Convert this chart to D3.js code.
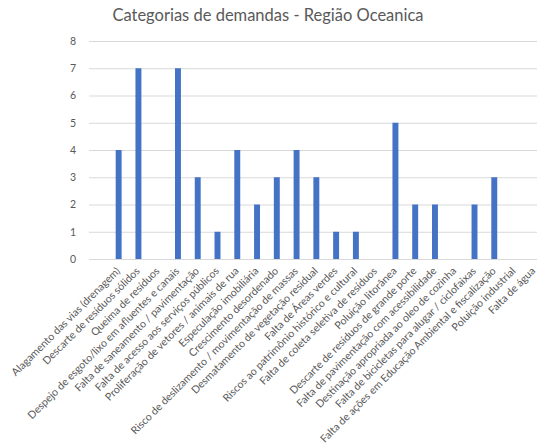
<!DOCTYPE html>
<html>
<head>
<meta charset="utf-8">
<script src="https://cdn.jsdelivr.net/npm/d3@7"></script>
<style>
  html, body { margin: 0; padding: 0; background: #fff; }
  svg { display: block; }
  text { font-family: Lato, "Open Sans", sans-serif; }
</style>
</head>
<body>
<svg id="chart" width="537" height="445"></svg>
<script>
const title = "Categorias de demandas - Região Oceanica";
const categories = [
  "",
  "Alagamento das vias (drenagem)",
  "Descarte de resíduos sólidos",
  "Queima de resíduos",
  "Despejo de esgoto/lixo em afluentes e canais",
  "Falta de saneamento / pavimentação",
  "Falta de acesso aos serviços públicos",
  "Proliferação de vetores / animais de rua",
  "Especulação imobiliária",
  "Crescimento desordenado",
  "Risco de deslizamento / movimentação de massas",
  "Desmatamento de vegetação residual",
  "Falta de Áreas verdes",
  "Riscos ao patrimônio histórico e cultural",
  "Falta de coleta seletiva de resíduos",
  "Poluição litorânea",
  "Descarte de resíduos de grande porte",
  "Falta de pavimentação com acessibilidade",
  "Destinação apropriada ao oleo de cozinha",
  "Falta de bicicletas para alugar / ciclofaixas",
  "Falta de ações em Educação Ambiental e fiscalização",
  "Poluição industrial",
  "Falta de água"
];
const values = [0, 4, 7, 0, 7, 3, 1, 4, 2, 3, 4, 3, 1, 1, 0, 5, 2, 2, 0, 2, 3, 0, 0];
const yTicks = [0, 1, 2, 3, 4, 5, 6, 7, 8];

const svg = d3.select("#chart");
const plot = { left: 89, right: 543.7, top: 41, bottom: 259 };

const x = d3.scaleBand()
  .domain(d3.range(categories.length))
  .range([plot.left, plot.right])
  .paddingInner(0.7)
  .paddingOuter(0.35);

const y = d3.scaleLinear().domain([0, 8]).range([plot.bottom, plot.top]);

// gridlines
svg.append("g")
  .selectAll("line")
  .data(yTicks)
  .join("line")
  .attr("x1", plot.left)
  .attr("x2", plot.right)
  .attr("y1", d => y(d) + 0.5)
  .attr("y2", d => y(d) + 0.5)
  .attr("stroke", "#d9d9d9")
  .attr("stroke-width", 1);

// y axis labels
const yAxis = d3.axisLeft(y).tickValues(yTicks).tickSize(0).tickPadding(13);
const gy = svg.append("g").attr("transform", `translate(${plot.left},0)`).call(yAxis);
gy.select(".domain").remove();
gy.selectAll("text")
  .attr("fill", "#595959")
  .style("font-size", "10.5px")
  .style("font-family", "Lato, 'Open Sans', sans-serif");

// bars
svg.append("g")
  .selectAll("rect")
  .data(values)
  .join("rect")
  .attr("x", (d, i) => x(i))
  .attr("width", x.bandwidth())
  .attr("y", d => y(d))
  .attr("height", d => y(0) - y(d))
  .attr("fill", "#4472c4");

// x labels
svg.append("g")
  .selectAll("text")
  .data(categories)
  .join("text")
  .attr("transform", (d, i) => `translate(${x(i) + x.bandwidth() / 2 - 0.5},${plot.bottom + 10}) rotate(-45)`)
  .attr("text-anchor", "end")
  .attr("dy", "0.35em")
  .attr("fill", "#595959")
  .style("font-size", "10.6px")
  .text(d => d);

// title
svg.append("text")
  .attr("x", 268)
  .attr("y", 21)
  .attr("text-anchor", "middle")
  .attr("fill", "#595959")
  .style("font-size", "16.5px")
  .text(title);
</script>
</body>
</html>
